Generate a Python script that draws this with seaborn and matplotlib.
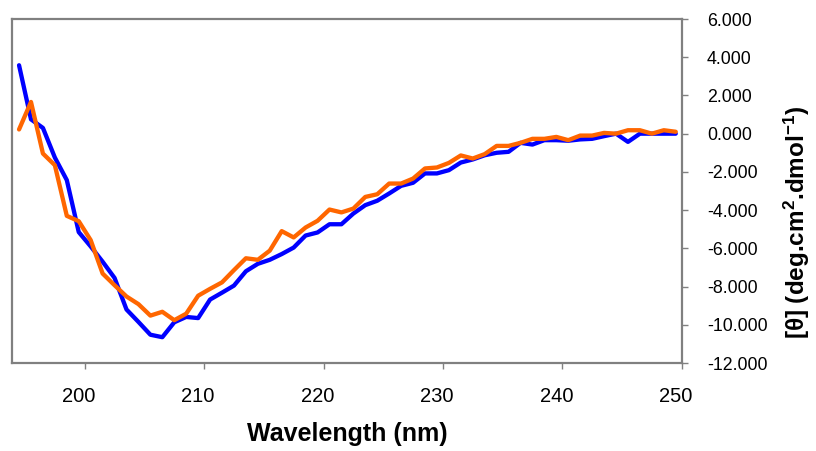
import numpy as np
import pandas as pd
import matplotlib.pyplot as plt
import seaborn as sns

# =========================
# DATA
# =========================
wavelength = list(range(195, 251))

sample_a = [
    3.58, 0.75, 0.30, -1.25, -2.43, -5.15, -5.90, -6.70, -7.55, -9.20,
    -9.85, -10.52, -10.65, -9.87, -9.59, -9.65, -8.68, -8.32, -7.95, -7.20,
    -6.81, -6.60, -6.30, -5.96, -5.33, -5.17, -4.74, -4.74, -4.18, -3.74,
    -3.51, -3.13, -2.73, -2.57, -2.08, -2.08, -1.91, -1.51, -1.35, -1.13,
    -1.00, -0.95, -0.48, -0.57, -0.34, -0.34, -0.37, -0.30, -0.27, -0.13,
    0.00, -0.43, 0.00, 0.00, 0.00, 0.00,
]

sample_b = [
    0.22, 1.66, -1.04, -1.65, -4.30, -4.58, -5.57, -7.32, -7.93, -8.52,
    -8.92, -9.52, -9.32, -9.76, -9.42, -8.48, -8.12, -7.78, -7.14, -6.52,
    -6.60, -6.12, -5.10, -5.43, -4.91, -4.56, -3.97, -4.12, -3.92, -3.31,
    -3.17, -2.61, -2.61, -2.35, -1.82, -1.77, -1.53, -1.14, -1.30, -1.07,
    -0.64, -0.64, -0.48, -0.27, -0.27, -0.17, -0.34, -0.10, -0.10, 0.04,
    0.00, 0.18, 0.18, 0.00, 0.18, 0.10,
]

df = pd.DataFrame({
    "wavelength": wavelength * 2,
    "theta": sample_a + sample_b,
    "sample": ["A"] * len(wavelength) + ["B"] * len(wavelength),
})

# =========================
# STYLE
# =========================
sns.set_theme(style="white")
plt.rcParams["font.family"] = ["Liberation Sans", "DejaVu Sans"]
plt.rcParams["mathtext.fontset"] = "custom"
plt.rcParams["mathtext.rm"] = "Liberation Sans:bold"
plt.rcParams["mathtext.default"] = "rm"
plt.rcParams["text.color"] = "black"
plt.rcParams["axes.labelcolor"] = "black"
plt.rcParams["xtick.labelcolor"] = "black"
plt.rcParams["ytick.labelcolor"] = "black"

fig = plt.figure(figsize=(8.16, 4.51), dpi=100)
ax = fig.add_axes([12 / 816, 1 - 363 / 451, (681.7 - 12) / 816, (363 - 19) / 451])

sns.lineplot(
    data=df, x="wavelength", y="theta", hue="sample",
    palette={"A": "#0000FF", "B": "#FF6600"},
    linewidth=3.1, legend=False, ax=ax,
)

# category-style axis: points centred between tick marks
ax.set_xlim(194.41, 250.46)
ax.set_ylim(-12, 6)

ax.set_xticks(np.arange(200, 251, 10))
ax.set_xticklabels([str(v) for v in range(200, 251, 10)])
ax.set_xticks(np.arange(200.5, 251, 10), minor=True)
ax.tick_params(axis="x", which="major", length=0, pad=17, labelsize=14.5,
               labelcolor="black")
ax.tick_params(axis="x", which="minor", bottom=True, direction="out",
               length=4.3, width=1, color="#808080")

ax.yaxis.tick_right()
ax.set_yticks(np.arange(-12, 7, 2))
ax.set_yticklabels([f"{v:.3f}" for v in range(-12, 7, 2)])
ax.tick_params(axis="y", which="major", right=True, direction="out",
               length=4.3, width=1, color="#808080", pad=14, labelsize=12.8,
               labelcolor="black")

for sp in ax.spines.values():
    sp.set_color("#808080")
    sp.set_linewidth(1.6)

ax.set_xlabel("Wavelength (nm)", fontsize=18, fontweight="bold", labelpad=12,
              color="black")
ax.set_ylabel("")
fig.text(0.977, 0.507, r"[θ] (deg.cm$^{2}$.dmol$^{-1}$)", rotation=90,
         ha="center", va="center", fontsize=17.5, fontweight="bold",
         color="black")

plt.savefig("out.png", dpi=100)
plt.close()
